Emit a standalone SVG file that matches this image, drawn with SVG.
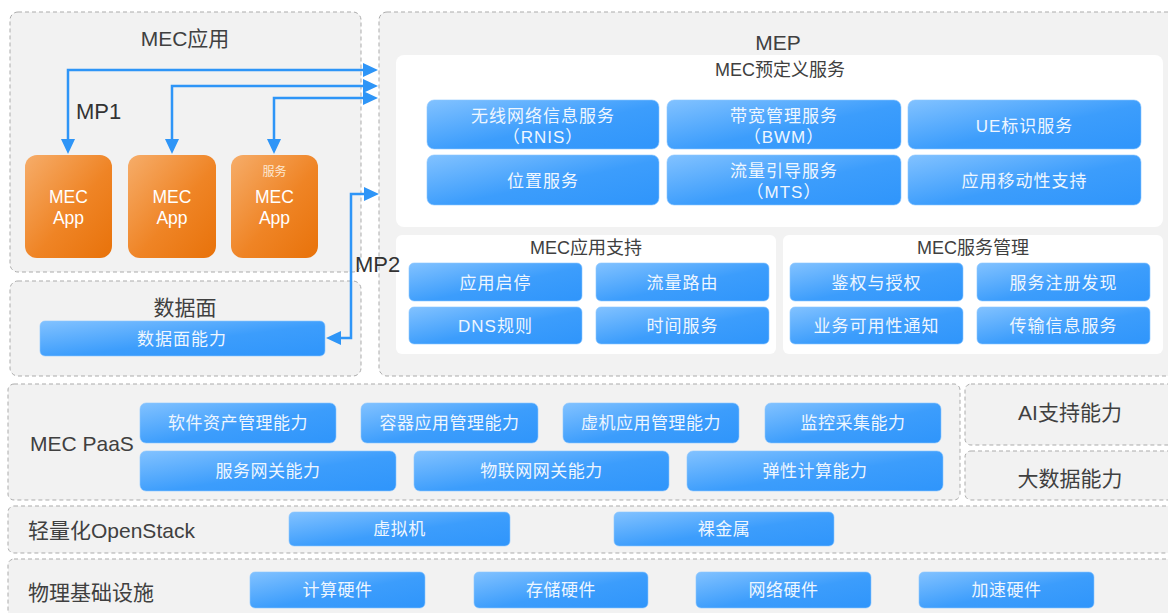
<svg xmlns="http://www.w3.org/2000/svg" width="1168" height="613" viewBox="0 0 1168 613">
<defs>
<linearGradient id="gBlue" x1="0" y1="0" x2="1" y2="1">
<stop offset="0" stop-color="#82c2ff"/>
<stop offset="0.55" stop-color="#3c9dfc"/>
<stop offset="1" stop-color="#2f95fb"/>
</linearGradient>
<linearGradient id="gOrange" x1="0" y1="0" x2="1" y2="1">
<stop offset="0" stop-color="#f6ad6a"/>
<stop offset="0.55" stop-color="#ef8425"/>
<stop offset="1" stop-color="#e8720a"/>
</linearGradient>
<marker id="ah" viewBox="0 0 15 14" markerWidth="15" markerHeight="14" refX="7" refY="7" markerUnits="userSpaceOnUse" orient="auto-start-reverse">
<path d="M0,0 L15,7 L0,14 z" fill="#2e95f7"/>
</marker>
<style>
.panel{fill:#f2f2f2;stroke:#ababab;stroke-width:1;stroke-dasharray:4 3}
.white{fill:#ffffff}
.blue{fill:url(#gBlue);stroke:#8cc6ff;stroke-width:0.6}
.orange{fill:url(#gOrange)}
text{font-family:"Liberation Sans","Noto Sans CJK SC",sans-serif;dominant-baseline:central}
.t1{font-size:21px;fill:#404040;text-anchor:middle}
.t1l{font-size:21px;fill:#404040}
.t2{font-size:18px;fill:#404040;text-anchor:middle}
.bt{font-size:17px;fill:#eef6ff;text-anchor:middle;letter-spacing:1px}
.pt{font-size:17px;fill:#eef6ff;text-anchor:middle;letter-spacing:0.5px}
.at{font-size:17.5px;fill:#ffffff;text-anchor:middle}
.mp{font-size:22px;fill:#333333}
.conn{fill:none;stroke:#2e95f7;stroke-width:2.5;marker-start:url(#ah);marker-end:url(#ah)}
</style>
</defs>
<rect width="1168" height="613" fill="#ffffff"/>

<g id="mec-app-panel">
<rect class="panel" x="10" y="12" width="351" height="260" rx="8"/>
<text class="t1" x="185" y="38">MEC应用</text>
</g>
<g id="app1">
<rect class="orange" x="25" y="155" width="87" height="103" rx="12"/>
<text class="at" x="68.5" y="197">MEC</text>
<text class="at" x="68.5" y="218">App</text>
</g>
<g id="app2">
<rect class="orange" x="128" y="155" width="88" height="103" rx="12"/>
<text class="at" x="172" y="197">MEC</text>
<text class="at" x="172" y="218">App</text>
</g>
<g id="app3">
<rect class="orange" x="231" y="155" width="87" height="103" rx="12"/>
<text x="274.5" y="172" style="font-size:12px;fill:#fde8d2;text-anchor:middle">服务</text>
<text class="at" x="274.5" y="197">MEC</text>
<text class="at" x="274.5" y="218">App</text>
</g>

<g id="data-plane">
<rect class="panel" x="10" y="281" width="351" height="95" rx="8"/>
<text class="t1" x="185" y="307">数据面</text>
<rect class="blue" x="40" y="321" width="285" height="35" rx="5"/>
<text class="bt" x="182" y="339">数据面能力</text>
</g>

<g id="mep">
<rect class="panel" x="379" y="12" width="800" height="364" rx="8"/>
<text class="t1" x="778" y="42">MEP</text>
</g>

<g id="predefined">
<rect class="white" x="396" y="55" width="767" height="172" rx="8"/>
<text class="t2" x="780" y="70">MEC预定义服务</text>
<rect class="blue" x="427" y="100" width="232" height="49" rx="7"/>
<text class="bt" x="543" y="116">无线网络信息服务</text>
<text class="bt" x="543" y="137">（RNIS）</text>
<rect class="blue" x="667" y="100" width="234" height="49" rx="7"/>
<text class="bt" x="784" y="116">带宽管理服务</text>
<text class="bt" x="784" y="137">（BWM）</text>
<rect class="blue" x="908" y="100" width="233" height="49" rx="7"/>
<text class="bt" x="1024.5" y="126">UE标识服务</text>
<rect class="blue" x="427" y="155" width="232" height="50" rx="7"/>
<text class="bt" x="543" y="181">位置服务</text>
<rect class="blue" x="667" y="155" width="234" height="50" rx="7"/>
<text class="bt" x="784" y="171">流量引导服务</text>
<text class="bt" x="784" y="192">（MTS）</text>
<rect class="blue" x="908" y="155" width="233" height="50" rx="7"/>
<text class="bt" x="1024.5" y="181">应用移动性支持</text>
</g>

<g id="app-support">
<rect class="white" x="396" y="235" width="380" height="119" rx="6"/>
<text class="t2" x="586" y="248">MEC应用支持</text>
<rect class="blue" x="409" y="263" width="173" height="38" rx="5"/>
<text class="bt" x="495.5" y="283">应用启停</text>
<rect class="blue" x="596" y="263" width="173" height="38" rx="5"/>
<text class="bt" x="682.5" y="283">流量路由</text>
<rect class="blue" x="409" y="307" width="173" height="37" rx="5"/>
<text class="bt" x="495.5" y="326">DNS规则</text>
<rect class="blue" x="596" y="307" width="173" height="37" rx="5"/>
<text class="bt" x="682.5" y="326">时间服务</text>
</g>

<g id="service-mgmt">
<rect class="white" x="783" y="235" width="380" height="119" rx="6"/>
<text class="t2" x="973" y="248">MEC服务管理</text>
<rect class="blue" x="790" y="263" width="173" height="38" rx="5"/>
<text class="bt" x="876.5" y="283">鉴权与授权</text>
<rect class="blue" x="977" y="263" width="173" height="38" rx="5"/>
<text class="bt" x="1063.5" y="283">服务注册发现</text>
<rect class="blue" x="790" y="307" width="173" height="37" rx="5"/>
<text class="bt" x="876.5" y="326">业务可用性通知</text>
<rect class="blue" x="977" y="307" width="173" height="37" rx="5"/>
<text class="bt" x="1063.5" y="326">传输信息服务</text>
</g>

<g id="paas">
<rect class="panel" x="8" y="384" width="952" height="116" rx="6"/>
<text class="t1l" x="30" y="443">MEC PaaS</text>
<rect class="blue" x="140" y="403" width="196" height="40" rx="6"/>
<text class="pt" x="238" y="423">软件资产管理能力</text>
<rect class="blue" x="361" y="403" width="177" height="40" rx="6"/>
<text class="pt" x="449.5" y="423">容器应用管理能力</text>
<rect class="blue" x="563" y="403" width="176" height="40" rx="6"/>
<text class="pt" x="651" y="423">虚机应用管理能力</text>
<rect class="blue" x="765" y="403" width="176" height="40" rx="6"/>
<text class="pt" x="853" y="423">监控采集能力</text>
<rect class="blue" x="140" y="451" width="256" height="40" rx="6"/>
<text class="pt" x="268" y="471">服务网关能力</text>
<rect class="blue" x="414" y="451" width="255" height="40" rx="6"/>
<text class="pt" x="541.5" y="471">物联网网关能力</text>
<rect class="blue" x="687" y="451" width="256" height="40" rx="6"/>
<text class="pt" x="815" y="471">弹性计算能力</text>
</g>

<g id="ai">
<rect class="panel" x="965" y="384" width="210" height="61" rx="6"/>
<text class="t1" x="1070" y="412">AI支持能力</text>
</g>
<g id="bigdata">
<rect class="panel" x="965" y="451" width="210" height="49" rx="6"/>
<text class="t1" x="1070" y="478">大数据能力</text>
</g>

<g id="openstack">
<rect class="panel" x="8" y="506" width="1170" height="47" rx="6"/>
<text class="t1l" x="28" y="530">轻量化OpenStack</text>
<rect class="blue" x="289" y="512" width="221" height="34" rx="5"/>
<text class="pt" x="399.5" y="529">虚拟机</text>
<rect class="blue" x="614" y="512" width="220" height="34" rx="5"/>
<text class="pt" x="724" y="529">裸金属</text>
</g>

<g id="infra">
<rect class="panel" x="8" y="559" width="1170" height="60" rx="6"/>
<text class="t1l" x="28" y="592">物理基础设施</text>
<rect class="blue" x="250" y="572" width="175" height="36" rx="5"/>
<text class="pt" x="337.5" y="590">计算硬件</text>
<rect class="blue" x="474" y="572" width="174" height="36" rx="5"/>
<text class="pt" x="561" y="590">存储硬件</text>
<rect class="blue" x="696" y="572" width="175" height="36" rx="5"/>
<text class="pt" x="783.5" y="590">网络硬件</text>
<rect class="blue" x="919" y="572" width="175" height="36" rx="5"/>
<text class="pt" x="1006.5" y="590">加速硬件</text>
</g>

<g id="connectors">
<path class="conn" d="M68,146 V70 H370"/>
<path class="conn" d="M172,146 V86 H370"/>
<path class="conn" d="M274,146 V98 H370"/>
<path class="conn" d="M334,338 H351 V194 H371"/>
<text class="mp" x="76" y="111">MP1</text>
<text class="mp" x="355" y="264">MP2</text>
</g>
</svg>
